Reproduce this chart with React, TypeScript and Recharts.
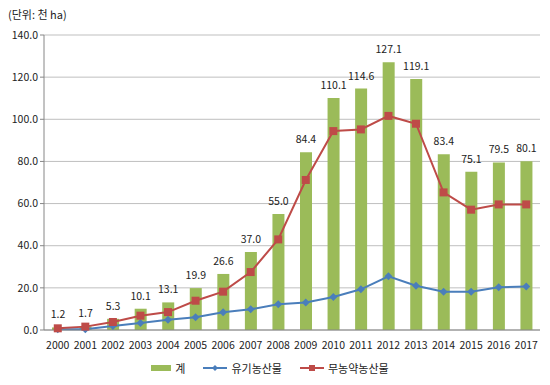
import React from 'react';
import {
  ComposedChart,
  Bar,
  Line,
  XAxis,
  YAxis,
  CartesianGrid,
  Legend,
  LabelList,
} from 'recharts';

const years = [
  '2000', '2001', '2002', '2003', '2004', '2005', '2006', '2007', '2008',
  '2009', '2010', '2011', '2012', '2013', '2014', '2015', '2016', '2017',
];
const totals = [
  1.2, 1.7, 5.3, 10.1, 13.1, 19.9, 26.6, 37.0, 55.0,
  84.4, 110.1, 114.6, 127.1, 119.1, 83.4, 75.1, 79.5, 80.1,
];
const organic = [
  0.3, 0.4, 1.9, 3.3, 4.9, 6.0, 8.4, 9.8, 12.2,
  13.1, 15.7, 19.3, 25.5, 21.0, 18.2, 18.2, 20.3, 20.7,
];
const noPesticide = [
  0.8, 1.6, 3.8, 6.8, 8.5, 13.9, 18.2, 27.5, 43.0,
  71.2, 94.4, 95.2, 101.6, 97.9, 65.3, 57.1, 59.6, 59.6,
];
const yTicks = [0, 20, 40, 60, 80, 100, 120, 140];

const data = years.map((year, i) => ({
  year,
  total: totals[i],
  organic: organic[i],
  noPesticide: noPesticide[i],
}));

const FONT = '"Noto Sans CJK KR", "Liberation Sans", sans-serif';

const Diamond = (props: any) => {
  const { cx, cy, fill } = props;
  if (cx == null || cy == null) return null;
  return <path d={`M${cx},${cy - 4}L${cx + 4},${cy}L${cx},${cy + 4}L${cx - 4},${cy}Z`} fill={fill} />;
};

const Square = (props: any) => {
  const { cx, cy, fill } = props;
  if (cx == null || cy == null) return null;
  return <rect x={cx - 4} y={cy - 4} width={8} height={8} fill={fill} />;
};

const LegendContent = () => (
  <div
    style={{
      display: 'flex',
      justifyContent: 'center',
      alignItems: 'center',
      gap: 18,
      paddingTop: 6,
      fontFamily: FONT,
      fontSize: 11,
      color: '#222',
    }}
  >
    <span style={{ display: 'flex', alignItems: 'center', gap: 4 }}>
      <svg width={20} height={8}>
        <rect x={0} y={1} width={20} height={6} fill="#9BBB59" />
      </svg>
      계
    </span>
    <span style={{ display: 'flex', alignItems: 'center', gap: 4 }}>
      <svg width={24} height={10}>
        <line x1={0} y1={5} x2={24} y2={5} stroke="#4A7EBB" strokeWidth={2} />
        <path d="M12,2L15,5L12,8L9,5Z" fill="#4A7EBB" />
      </svg>
      유기농산물
    </span>
    <span style={{ display: 'flex', alignItems: 'center', gap: 4 }}>
      <svg width={24} height={10}>
        <line x1={0} y1={5} x2={24} y2={5} stroke="#BE4B48" strokeWidth={2} />
        <rect x={9} y={2} width={6} height={6} fill="#BE4B48" />
      </svg>
      무농약농산물
    </span>
  </div>
);

export default function App() {
  return (
    <div
      style={{
        position: 'absolute',
        left: 0,
        top: 0,
        width: 550,
        height: 385,
        background: '#fff',
        fontFamily: FONT,
      }}
    >
      <div style={{ position: 'absolute', left: 8, top: 6, fontSize: 11, color: '#222' }}>
        (단위: 천 ha)
      </div>
      <ComposedChart
        width={550}
        height={385}
        data={data}
        margin={{ top: 35, right: 10, left: 0, bottom: 0 }}
      >
        <CartesianGrid vertical={false} stroke="#BFBFBF" />
        <XAxis
          dataKey="year"
          height={24}
          stroke="#868686"
          tickLine={false}
          tick={{ fill: '#222', fontSize: 10.5, fontFamily: FONT }}
          tickMargin={6}
          interval={0}
        />
        <YAxis
          domain={[0, 140]}
          ticks={yTicks}
          stroke="#868686"
          tickSize={4}
          width={44}
          tickFormatter={(v: number) => v.toFixed(1)}
          tick={{ fill: '#222', fontSize: 10.5, fontFamily: FONT }}
        />
        <Legend verticalAlign="bottom" height={31} content={<LegendContent />} />
        <Bar dataKey="total" name="계" fill="#9BBB59" barSize={12} isAnimationActive={false}>
          <LabelList
            dataKey="total"
            position="top"
            offset={9}
            formatter={(v: any) => Number(v).toFixed(1)}
            style={{ fill: '#222', fontSize: 10.5, fontFamily: FONT }}
          />
        </Bar>
        <Line
          dataKey="organic"
          name="유기농산물"
          stroke="#4A7EBB"
          strokeWidth={2}
          dot={<Diamond fill="#4A7EBB" />}
          activeDot={false}
          isAnimationActive={false}
        />
        <Line
          dataKey="noPesticide"
          name="무농약농산물"
          stroke="#BE4B48"
          strokeWidth={2}
          dot={<Square fill="#BE4B48" />}
          activeDot={false}
          isAnimationActive={false}
        />
      </ComposedChart>
    </div>
  );
}
